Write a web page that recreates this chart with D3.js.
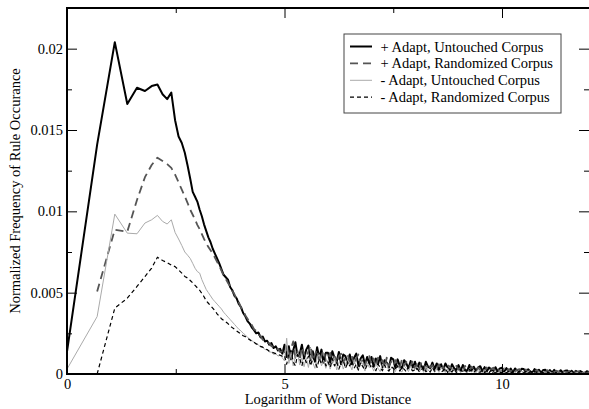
<!DOCTYPE html>
<html>
<head>
<meta charset="utf-8">
<script src="https://cdn.jsdelivr.net/npm/d3@7"></script>
<style>
  body { margin: 0; background: #fff; }
  svg { display: block; font-family: "Liberation Serif", "Times New Roman", serif; }
</style>
</head>
<body>
<svg id="chart" width="589" height="409"></svg>
<script>
// x = log of word distance; first 20 points are ln(1)..ln(20)
var headX = [0, 0.693, 1.099, 1.386, 1.609, 1.792, 1.946, 2.079, 2.197, 2.303,
  2.398, 2.485, 2.565, 2.639, 2.708, 2.773, 2.833, 2.890, 2.944, 2.996];
var midX = [3.05,3.1,3.15,3.2,3.25,3.3,3.35,3.4,3.45,3.5,3.55,3.6,3.65,3.7,3.75,3.8,3.85,3.9,3.95,
  4,4.05,4.1,4.15,4.2,4.25,4.3,4.35,4.4,4.45,4.5,4.55,4.6,4.65,4.7,4.75,4.8,4.85,4.9,4.95];
var tailX = [5,5.05,5.1,5.15,5.2,5.25,5.3,5.35,5.4,5.45,
  5.5,5.55,5.6,5.65,5.7,5.75,5.8,5.85,5.9,5.95,
  6,6.05,6.1,6.15,6.2,6.25,6.3,6.35,6.4,6.45,
  6.5,6.55,6.6,6.65,6.7,6.75,6.8,6.85,6.9,6.95,
  7,7.05,7.1,7.15,7.2,7.25,7.3,7.35,7.4,7.45,
  7.5,7.55,7.6,7.65,7.7,7.75,7.8,7.85,7.9,7.95,
  8,8.05,8.1,8.15,8.2,8.25,8.3,8.35,8.4,8.45,
  8.5,8.55,8.6,8.65,8.7,8.75,8.8,8.85,8.9,8.95,
  9,9.05,9.1,9.15,9.2,9.25,9.3,9.35,9.4,9.45,
  9.5,9.55,9.6,9.65,9.7,9.75,9.8,9.85,9.9,9.95,
  10,10.05,10.1,10.15,10.2,10.25,10.3,10.35,10.4,10.45,
  10.5,10.55,10.6,10.65,10.7,10.75,10.8,10.85,10.9,10.95,
  11,11.05,11.1,11.15,11.2,11.25,11.3,11.35,11.4,11.45,
  11.5,11.55,11.6,11.65,11.7,11.75,11.8,11.85,11.9,11.95,12];
var xValues = headX.concat(midX, tailX);

var seriesNames = ["+ Adapt, Untouched Corpus", "+ Adapt, Randomized Corpus",
  "- Adapt, Untouched Corpus", "- Adapt, Randomized Corpus"];

// frequencies, in units of 1e-4
var plusUntouched = [
  13.7,141,204,166,176,174,177,178,172,169,173,156,146,142,136,128,120,112,109,106,
  101,97,92,88,84,81,77,74,71,68,64.5,61,59.5,58,53.5,51.5,48,46.5,43,41,
  37.5,35.5,32.5,31,28.5,27,25,25.5,22.5,23,20,20.5,18,19,16,17,14.5,15.5,12.5,
  18,10.5,17,9,14.5,19.5,11,12.5,18,9.5,
  15,17.5,8.5,14,7.5,16.5,10,15,7,13,
  13,7,14,10,7.5,13.5,6,12,11,6.5,
  12,6,10,12.5,5,9.5,11.5,5.5,10.5,6.5,
  10.5,4.5,9.5,6,11,4,8.5,7,4,10,
  9,3.5,9,5,3.5,8.5,6.5,3.5,8,4,
  7.5,3,7,5,2.5,7.5,4.5,3.5,7,3,
  6.5,2.5,6,2.5,6.5,4,2,6,3.5,2.5,
  5.5,2,5.5,2.5,2,5.5,2,4.5,2,4,
  4.8,1.7,4.2,1.6,4,3,1.2,4.2,1.6,3.4,
  3.8,1.3,3.6,1.6,3.3,1.1,3.4,2,1.1,3.2,
  3.1,1,2.9,1.6,0.9,3,1.4,2.6,0.9,2.5,
  2.6,0.9,2.4,0.9,2.5,1.2,0.7,2.3,1,2,
  2.2,0.7,2,0.8,1.9,0.6,1.8,1,0.5,1.7,1.1];
var plusRandomized = [
  null,50.7,88.7,87.5,107,121,128.5,133,131,129,126.7,122.5,117.8,113.3,109.2,105.1,101,97.9,94.8,91.7,
  89,86,83,80.5,78,76,74,71.5,69,66.5,63.5,60.5,58.5,56,54,51,49,46,44,41,
  39,36,34,31.5,30,27.5,26.5,24,23.5,21,21,19,19,17,17,15,15.5,13.5,14,
  12,18.5,9,15.5,20,10,14,8.5,16.5,12.5,
  10,14,17.5,8.5,12,15,7,11.5,14.5,8,
  9.5,13,7,12.5,6,11,12.5,7,10,12,
  7.5,11,5.5,10,12,6.5,9,5,10,11,
  6,9.5,4.5,10,7,8.5,4,10,5,7.5,
  5,8.5,6,4,9,5,7.5,4,5.5,8,
  3.5,6.5,3,7.5,5,3,6.5,4,5.5,2.5,
  3.5,6,2.5,4.5,2,5.5,4.5,3,2,5,
  2.5,4.5,1.8,5,3,1.8,4.5,3,1.5,4,
  2.2,4,1.5,4,1.6,3,3.8,1.5,3.2,1.8,
  1.8,3.4,1.4,3,1.2,3.3,1.6,2.6,3,1.1,
  1.4,2.8,1.1,2.5,2,0.9,2.7,1.1,2.3,1.4,
  1.1,2.3,0.9,2.2,0.7,2,1.6,0.7,2.1,1,
  0.9,1.9,0.7,1.7,0.6,1.8,0.6,1.5,1,0.5,1.3];
var minusUntouched = [
  3,35.3,98.3,86.6,86.2,92.8,94.8,97.5,93.8,92.2,94.8,87,83,79,75,73,71,68,65,63,
  62,58,55,52,50,48,46,44.5,43,41.5,40,38,36.5,35,33.5,32,30.5,29,27.5,26.5,
  25,24,22.5,21.5,20.5,19.5,18.5,18,16.5,16.5,15,15,13.5,13.5,12,12.5,11,11.5,10,
  8,22,6.5,12.5,5,11,13,5.5,10,4.5,
  10,4,11.5,7,3.5,10,12,5,8.5,3.5,
  8.5,3,7.5,10,2.5,7,9.5,3,6,9,
  6,2.5,8.5,4.5,2,8,6,1.8,7,4,
  5.5,1.8,6.5,3.5,1.5,6,4,6.5,1.8,3.5,
  4.5,1.5,5.5,2.5,1.2,5,3.5,1.5,5,1.4,
  3.5,4.5,1.2,3.5,1,4.5,2.5,1.2,4,1,
  3,1,4,2,1,3.5,0.8,3,2,1,
  2.5,0.8,3,1.5,0.7,3,1.2,2.5,0.7,2.6,
  2,0.7,2.6,1.1,0.6,2.3,1,2,0.6,1.9,
  1.6,0.6,2.1,0.9,0.5,1.9,0.8,1.6,0.5,1.5,
  1.3,0.5,1.7,0.7,0.4,1.6,0.7,1.3,0.4,1.4,
  1.1,0.4,1.4,0.5,1,0.3,1.2,0.6,0.4,1.1,
  0.9,0.3,1.1,0.3,0.8,0.9,0.3,0.8,0.5,0.3,0.6];
var minusRandomized = [
  null,0,40.5,46.6,53.8,59.9,65.1,71.8,69.8,68.5,67,66,64,62,60,59,57.5,56,54.5,53,
  51.5,49.5,47.5,45,43.5,42,40.5,39,37,35.5,34,33,32,31,29.5,28.5,27.5,26.5,25.5,24.5,
  23.5,23,22,21,20,19.5,18.5,18,17,16.5,15.5,15,14,13.5,13,12.5,12,11.5,11,
  11.5,6,12.5,14.5,7.5,5,12,9.5,5,11,
  7,11,5,10,8,4,9.5,6,11,5,
  7.5,4,9.5,5,7.5,3,7,9,3.5,6.5,
  5,8,3.5,6,2.5,7,4.5,2.5,5.5,6.5,
  3.5,5.5,2,6,4,2,5.5,3,1.8,4.5,
  3.5,2.5,5,1.8,4,3,1.4,4.5,3,2,
  2.5,3.5,1.4,2.5,4.5,1.4,2.5,1.2,4,1.8,
  1.8,3.5,1.2,2,3.5,1,2.2,1.2,3.4,1,
  1.5,2.8,1,2.4,0.9,2.8,1.6,0.8,2.6,1.2,
  1.1,2.4,0.8,1.9,0.7,2.3,1.3,0.6,2,1,
  0.9,1.9,0.6,1.7,0.6,1.7,1.2,0.5,1.7,0.8,
  0.7,1.6,0.5,1.4,0.4,1.5,0.9,0.4,1.3,0.8,
  0.6,1.2,0.4,1.2,0.3,1.1,0.7,0.3,1.1,0.6,
  0.5,1,0.3,0.8,0.2,0.9,0.5,0.2,0.7,0.4,0.4];
var seriesValues = [plusUntouched, plusRandomized, minusUntouched, minusRandomized];

var xTicks = [0, 5, 10], xTickLabels = ["0", "5", "10"], xMinor = [2.5, 7.5];
var yTicks = [0, 0.005, 0.01, 0.015, 0.02], yTickLabels = ["0", "0.005", "0.01", "0.015", "0.02"];
var yMinor = [0.0025, 0.0075, 0.0125, 0.0175];

var styles = [
  {stroke: "#000", width: 2, dash: null},
  {stroke: "#555", width: 1.8, dash: "8,5"},
  {stroke: "#aaa", width: 1, dash: null},
  {stroke: "#000", width: 1.2, dash: "4,3"}
];

(function() {
  var svg = d3.select("#chart"),
      plotLeft = 67, plotRight = 589, plotTop = 8, plotBottom = 374,
      fontSize = 14.5;

  var x = d3.scaleLinear().domain([0, 12]).range([plotLeft, plotRight]);
  var y = d3.scaleLinear().domain([0, 0.0225]).range([plotBottom, plotTop]);

  svg.append("defs").append("clipPath").attr("id", "plot")
    .append("rect").attr("x", plotLeft).attr("y", plotTop)
    .attr("width", plotRight - plotLeft).attr("height", plotBottom - plotTop);

  // series lines
  var line = d3.line()
    .defined(function(d) { return d[1] != null; })
    .x(function(d) { return x(d[0]); })
    .y(function(d) { return y(d[1] * 1e-4); });

  svg.append("g").attr("clip-path", "url(#plot)")
    .selectAll("path")
    .data(seriesValues)
    .enter().append("path")
    .attr("d", function(vals) {
      return line(xValues.map(function(xv, i) { return [xv, vals[i] === undefined ? null : vals[i]]; }));
    })
    .attr("fill", "none")
    .attr("stroke", function(d, i) { return styles[i].stroke; })
    .attr("stroke-width", function(d, i) { return styles[i].width; })
    .attr("stroke-dasharray", function(d, i) { return styles[i].dash; })
    .attr("stroke-linejoin", "round");

  // axes with inward ticks on all four sides
  function styleAxis(g) {
    g.select(".domain").remove();
    g.attr("font-family", null).attr("font-size", fontSize).attr("color", "#000");
  }
  function axisGroup(axis, tx, ty) {
    svg.append("g").attr("transform", "translate(" + tx + "," + ty + ")").call(axis).call(styleAxis);
  }

  axisGroup(d3.axisBottom(x).tickValues(xTicks).tickSizeInner(-10).tickSizeOuter(0).tickPadding(5)
    .tickFormat(function(d, i) { return xTickLabels[i]; }), 0, plotBottom);
  axisGroup(d3.axisBottom(x).tickValues(xMinor).tickSizeInner(-5).tickSizeOuter(0).tickFormat(""), 0, plotBottom);
  axisGroup(d3.axisTop(x).tickValues(xTicks).tickSizeInner(-10).tickSizeOuter(0).tickFormat(""), 0, plotTop);
  axisGroup(d3.axisTop(x).tickValues(xMinor).tickSizeInner(-5).tickSizeOuter(0).tickFormat(""), 0, plotTop);

  axisGroup(d3.axisLeft(y).tickValues(yTicks).tickSizeInner(-10).tickSizeOuter(0).tickPadding(4)
    .tickFormat(function(d, i) { return yTickLabels[i]; }), plotLeft, 0);
  axisGroup(d3.axisLeft(y).tickValues(yMinor).tickSizeInner(-5).tickSizeOuter(0).tickFormat(""), plotLeft, 0);
  axisGroup(d3.axisRight(y).tickValues(yTicks).tickSizeInner(-10).tickSizeOuter(0).tickFormat(""), plotRight, 0);
  axisGroup(d3.axisRight(y).tickValues(yMinor).tickSizeInner(-5).tickSizeOuter(0).tickFormat(""), plotRight, 0);

  // frame (right edge falls off the picture)
  svg.append("path")
    .attr("d", "M" + plotRight + "," + plotTop + "H" + plotLeft + "V" + plotBottom + "H" + plotRight)
    .attr("fill", "none").attr("stroke", "#000").attr("stroke-width", 2);

  // axis titles
  svg.append("text")
    .attr("x", (plotLeft + plotRight) / 2).attr("y", 404)
    .attr("text-anchor", "middle").attr("font-size", fontSize)
    .text("Logarithm of Word Distance");
  svg.append("text")
    .attr("transform", "translate(20," + ((plotTop + plotBottom) / 2) + ") rotate(-90)")
    .attr("text-anchor", "middle").attr("font-size", fontSize)
    .text("Normalized Frequency of Rule Occurance");

  // legend
  var legend = svg.append("g").attr("transform", "translate(344,34)");
  legend.append("rect")
    .attr("width", 217).attr("height", 79)
    .attr("fill", "#fff").attr("stroke", "#444").attr("stroke-width", 1);
  var rows = legend.selectAll("g.row")
    .data(seriesNames)
    .enter().append("g").attr("class", "row")
    .attr("transform", function(d, i) { return "translate(0," + (12.5 + i * 16.9) + ")"; });
  rows.append("line")
    .attr("x1", 6).attr("x2", 28)
    .attr("stroke", function(d, i) { return styles[i].stroke; })
    .attr("stroke-width", function(d, i) { return styles[i].width; })
    .attr("stroke-dasharray", function(d, i) { return styles[i].dash; });
  rows.append("text")
    .attr("x", 36.5).attr("dy", "0.35em")
    .attr("font-size", fontSize)
    .text(function(d) { return d; });
})();
</script>
</body>
</html>
